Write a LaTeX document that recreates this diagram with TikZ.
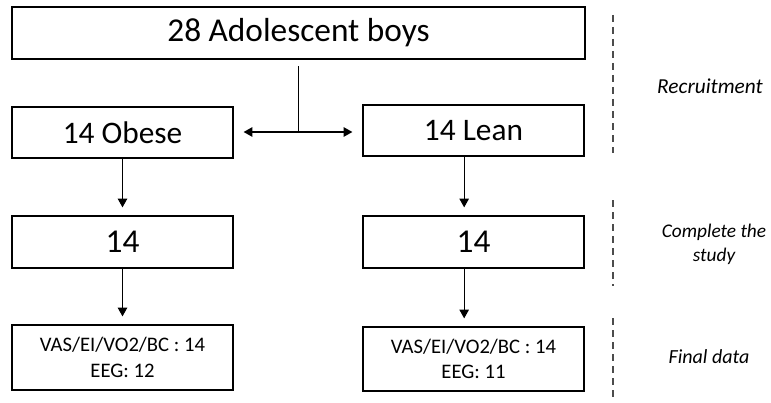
\documentclass[tikz,border=0pt]{standalone}
\usepackage{fontspec}
\setmainfont{Carlito}
\usetikzlibrary{arrows.meta,calc}

\begin{document}
\begin{tikzpicture}[x=0.75pt,y=-0.75pt,
		box/.style={draw,line width=0.9pt,minimum width=165.75pt,minimum height=38.25pt,inner sep=0pt,align=center},
		arr/.style={-{Triangle[length=6.5pt,width=7pt]},line width=0.9pt,shorten >=6pt},
		phase/.style={font=\itshape\fontsize{14.5}{18}\selectfont,align=center},
		sep/.style={line width=0.9pt,color=black!70,dash pattern=on 5pt off 4pt}]
			%%%%% START %%%%%
			
			\useasboundingbox (0,0) rectangle (771,403);
			
			\node[box,minimum width=429.75pt,minimum height=39pt,font=\fontsize{25}{30}\selectfont] (boys) at (298.5,33) {28 Adolescent boys};
			
			\node[box,font=\fontsize{23.5}{28}\selectfont] (obese) at (122.5,132.5) {14 Obese};
			\node[box,font=\fontsize{23.5}{28}\selectfont] (lean) at (473.5,130.5) {14 Lean};
			
			\node[box,minimum height=39pt,font=\fontsize{25}{30}\selectfont] (doneob) at (122.5,242) {14};
			\node[box,minimum height=39pt,font=\fontsize{25}{30}\selectfont] (donele) at (473.5,242) {14};
			
			\node[box,minimum height=48.75pt,font=\fontsize{15.5}{19}\selectfont] (dataob) at (122.5,357.5) {VAS/EI/VO2/BC : 14\\EEG: 12};
			\node[box,minimum height=48pt,font=\fontsize{15.5}{19}\selectfont] (datale) at (473.5,359) {VAS/EI/VO2/BC : 14\\EEG: 11};
			
			\coordinate (split) at (298.5,132);
			\draw[line width=0.9pt] ([yshift=-5pt]boys.south) -- (split);
			\draw[arr,shorten >=7.5pt] (split) -- (obese.east |- split);
			\draw[arr,shorten >=7.5pt] (split) -- (lean.west |- split);
			
			\draw[arr] (obese.south) -- (doneob.north);
			\draw[arr] ([xshift=-7pt]lean.south) -- ([xshift=-7pt]donele.north);
			\draw[arr] (doneob.south) -- (dataob.north);
			\draw[arr] ([xshift=-7pt]donele.south) -- ([xshift=-7pt]datale.north);
			
			\draw[sep] (613,15) -- (613,153);
			\draw[sep] (613,200) -- (613,286);
			\draw[sep] (613,318) -- (613,401);
			
			\node[phase,font=\itshape\fontsize{16}{19}\selectfont] (recruit) at (710,86) {Recruitment};
			\node[phase] (complete) at (714,244) {Complete the\\study};
			\node[phase,font=\itshape\fontsize{15}{18}\selectfont] (final) at (709,357) {Final data};
			
			%%%%% END %%%%%
		\end{tikzpicture}
\end{document}
